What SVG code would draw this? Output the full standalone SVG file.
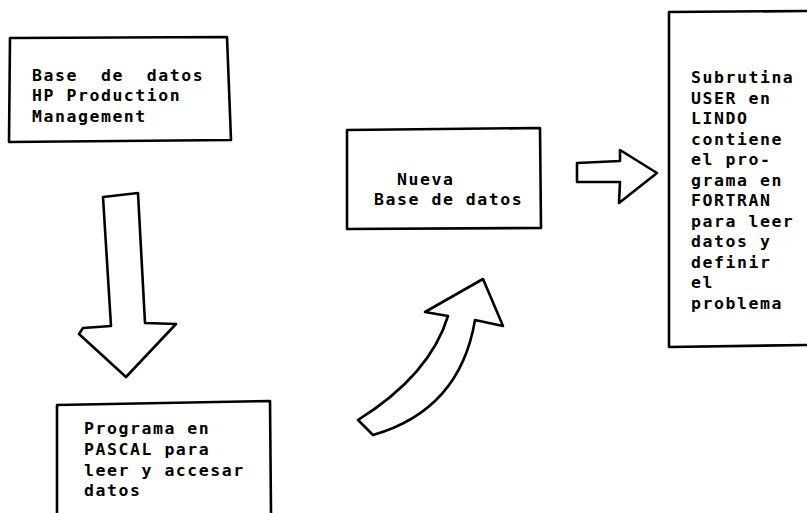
<svg xmlns="http://www.w3.org/2000/svg" width="807" height="513" viewBox="0 0 807 513">
<style>
.ln{fill:none;stroke:#000;stroke-width:2.6;stroke-linejoin:round;stroke-linecap:round}
.ar{fill:#fff;stroke:#000;stroke-width:2.6;stroke-linejoin:round;stroke-linecap:round}
text{font-family:"DejaVu Sans Mono","Liberation Mono",monospace;font-size:16.5px;font-weight:bold;letter-spacing:1.55px;fill:#000;white-space:pre}
</style>
<rect width="807" height="513" fill="#fff"/>
<g id="box-hp">
<path class="ln" d="M10,38 L227,37 L231,140 L9,142 Z"/>
<text x="32" y="81" xml:space="preserve">Base  de  datos</text>
<text x="32" y="101">HP Production</text>
<text x="32" y="122">Management</text>
</g>
<g id="box-nueva">
<path class="ln" d="M347,130 L540,128 L541,228 L347,229 Z"/>
<text x="397" y="185">Nueva</text>
<text x="374" y="205">Base de datos</text>
</g>
<g id="box-lindo">
<path class="ln" d="M807,11 L669,12 L669,347 L807,345"/>
<text x="691" y="83">Subrutina</text>
<text x="691" y="103.5">USER en</text>
<text x="691" y="124">LINDO</text>
<text x="691" y="144.5">contiene</text>
<text x="691" y="165">el pro-</text>
<text x="691" y="185.5">grama en</text>
<text x="691" y="206">FORTRAN</text>
<text x="691" y="226.5">para leer</text>
<text x="691" y="247">datos y</text>
<text x="691" y="267.5">definir</text>
<text x="691" y="288">el</text>
<text x="691" y="308.5">problema</text>
</g>
<g id="box-pascal">
<path class="ln" d="M57,513 L57,405 L270,401 L271,513"/>
<text x="84" y="434">Programa en</text>
<text x="84" y="455">PASCAL para</text>
<text x="84" y="476">leer y accesar</text>
<text x="84" y="496">datos</text>
</g>
<g id="connectors">
<path class="ar" d="M103,197 L138,193 L145,323 L176,324 L126,377 L79,334 L83,328 L111,326 Z"/>
<path class="ar" d="M358,420 Q430,375 448,316 L425,312 L483,279 L503,326 L475,320 Q460,410 373,435 Z"/>
<path class="ar" d="M577,163 L620,161 L620,150 L657,173 L619,203 L620,182 L577,182 Z"/>
</g>
</svg>
